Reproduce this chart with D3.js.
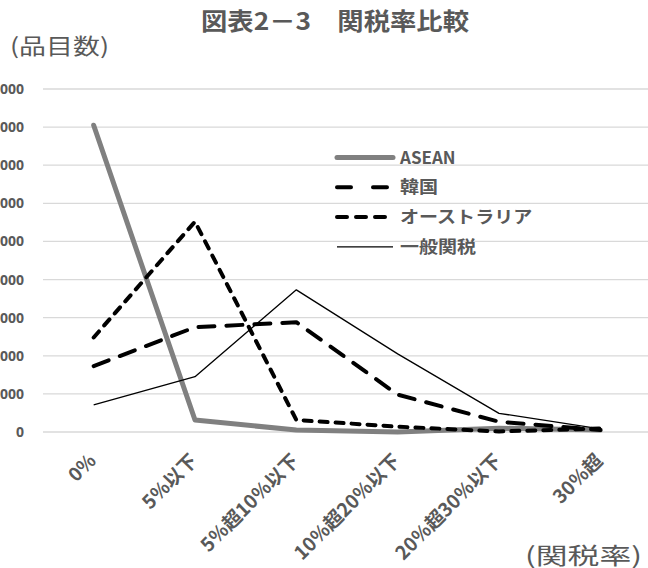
<!DOCTYPE html>
<html>
<head>
<meta charset="utf-8">
<script src="https://cdn.jsdelivr.net/npm/d3@7"></script>
<style>
  html, body { margin: 0; padding: 0; background: #fff; }
  svg { display: block; font-family: "Noto Sans CJK JP", "Noto Sans", sans-serif; }
</style>
</head>
<body>
<svg id="chart" width="648" height="568"></svg>
<script>
// Tariff-rate brackets (x categories)
const categories = ["0%", "5％以下", "5％超10％以下", "10％超20％以下", "20％超30％以下", "30％超"];

// Number of tariff lines per bracket
const asean      = [8050, 315, 50, 0, 100, 50];
const korea      = [1730, 2750, 2880, 980, 270, 50];
const australia  = [2480, 5520, 315, 140, 15, 90];
const generalTax = [710, 1450, 3730, 2050, 490, 80];

const yTicks = [0, 1000, 2000, 3000, 4000, 5000, 6000, 7000, 8000, 9000];

const series = [
  { name: "ASEAN",        values: asean,      color: "#808080", width: 5,   dash: null,   legendDash: null,    cap: "round" },
  { name: "韓国",          values: korea,      color: "#000",    width: 4,   dash: "16,12", legendDash: "14,22", cap: "round" },
  { name: "オーストラリア", values: australia,  color: "#000",    width: 4,   dash: "8,8",  legendDash: "10,9",  cap: "round" },
  { name: "一般関税",       values: generalTax, color: "#000",    width: 1.3, dash: null,   legendDash: null,    cap: "butt" }
];

const svg = d3.select("#chart");
const textColor = "#595959";

const x = d3.scalePoint().domain(categories).range([43, 651]).padding(0.5);
const y = d3.scaleLinear().domain([0, 9000]).range([432, 89]);

// Horizontal gridlines
svg.append("g")
  .selectAll("line")
  .data(yTicks)
  .join("line")
  .attr("x1", 43).attr("x2", 648)
  .attr("y1", d => y(d)).attr("y2", d => y(d))
  .attr("stroke", "#d9d9d9").attr("stroke-width", 1.3);

// Y axis labels
const yAxis = d3.axisLeft(y).tickValues(yTicks).tickFormat(d3.format("d")).tickSize(0).tickPadding(0);
const yg = svg.append("g").attr("transform", "translate(24,0)").call(yAxis);
yg.select(".domain").remove();
yg.selectAll("text")
  .attr("fill", textColor).attr("font-size", 14).attr("font-weight", "bold")
  .attr("font-family", "'Open Sans', 'Noto Sans', sans-serif");

// X axis labels (rotated)
const xAxis = d3.axisBottom(x).tickSize(0).tickPadding(0);
const xg = svg.append("g").attr("transform", "translate(0,432)").call(xAxis);
xg.select(".domain").remove();
xg.selectAll("text")
  .attr("fill", textColor).attr("font-size", 19).attr("font-weight", "bold")
  .attr("font-family", "'Noto Sans CJK JP', sans-serif")
  .attr("text-anchor", "end")
  .attr("dy", 0)
  .attr("transform", "translate(3,30) rotate(-45)");

// Lines
const line = d3.line()
  .x((d, i) => x(categories[i]))
  .y(d => y(d));

svg.append("g")
  .selectAll("path")
  .data(series)
  .join("path")
  .attr("d", d => line(d.values))
  .attr("fill", "none")
  .attr("stroke", d => d.color)
  .attr("stroke-width", d => d.width)
  .attr("stroke-dasharray", d => d.dash)
  .attr("stroke-linecap", d => d.cap)
  .attr("stroke-linejoin", "round");

// Legend
const legend = svg.append("g")
  .selectAll("g")
  .data(series)
  .join("g")
  .attr("transform", (d, i) => `translate(337,${157.5 + i * 29.8})`);
legend.append("line")
  .attr("x1", 0).attr("x2", 56)
  .attr("y1", 0).attr("y2", 0)
  .attr("stroke", d => d.color)
  .attr("stroke-width", d => d.width)
  .attr("stroke-dasharray", d => d.legendDash)
  .attr("stroke-linecap", d => d.cap);
legend.append("text")
  .attr("transform", d => d.name === "ASEAN" ? "translate(63,0)" : "translate(63,0) scale(1.12,1)")
  .attr("dy", "0.36em")
  .attr("fill", textColor).attr("font-size", 17).attr("font-weight", "bold")
  .text(d => d.name);

// Title and axis captions
svg.append("text")
  .attr("x", 335).attr("y", 30)
  .attr("text-anchor", "middle")
  .attr("fill", textColor).attr("font-size", 24).attr("font-weight", "bold")
  .attr("textLength", 268).attr("lengthAdjust", "spacingAndGlyphs")
  .text("図表2－3　関税率比較");

svg.append("text")
  .attr("x", 10).attr("y", 54)
  .attr("fill", textColor).attr("font-size", 22)
  .attr("textLength", 99).attr("lengthAdjust", "spacingAndGlyphs")
  .text("(品目数)");

svg.append("text")
  .attr("x", 525).attr("y", 564)
  .attr("fill", textColor).attr("font-size", 23)
  .attr("textLength", 117).attr("lengthAdjust", "spacingAndGlyphs")
  .text("(関税率)");
</script>
</body>
</html>
